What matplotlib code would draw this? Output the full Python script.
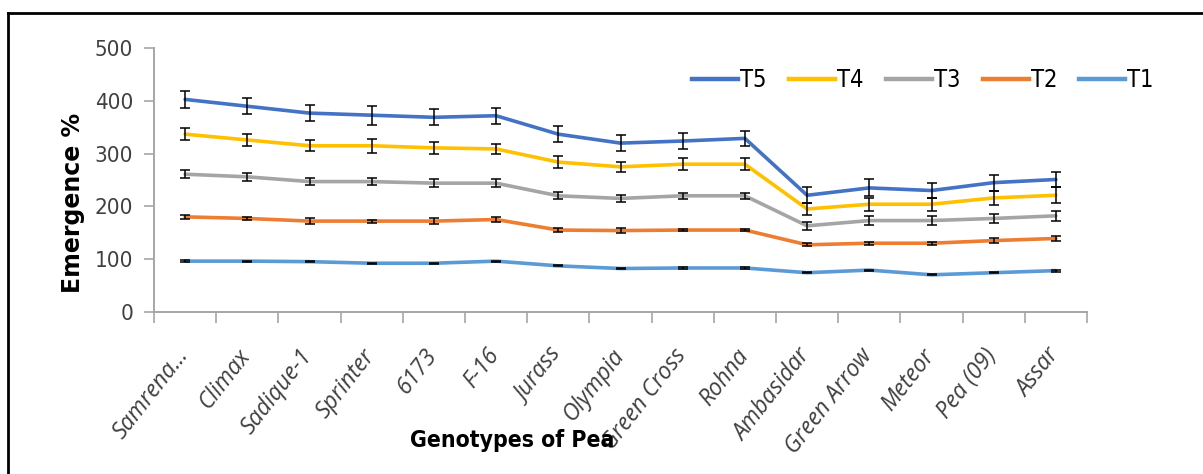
import matplotlib.pyplot as plt
from matplotlib.lines import Line2D
import matplotlib.transforms as mtransforms
import numpy as np

genotypes = ['Samrena...', 'Climax', 'Sadique-1', 'Sprinter', '6173', 'F-16', 'Jurass',
             'Olympia', 'Green Cross', 'Rohna', 'Ambasidar', 'Green Arrow', 'Meteor',
             'Pea (09)', 'Assar']

t5 = [403, 390, 377, 373, 369, 372, 337, 320, 324, 329, 221, 235, 230, 245, 251]
t4 = [337, 326, 315, 315, 311, 309, 284, 275, 280, 280, 195, 204, 204, 216, 221]
t3 = [261, 256, 247, 247, 244, 244, 220, 215, 220, 220, 163, 173, 173, 177, 182]
t2 = [180, 177, 172, 172, 172, 175, 155, 154, 155, 155, 127, 130, 130, 135, 139]
t1 = [96, 96, 95, 92, 92, 96, 87, 82, 83, 83, 74, 79, 70, 74, 78]

t5_err = [16, 15, 15, 18, 15, 15, 15, 15, 15, 14, 15, 16, 15, 15, 15]
t4_err = [11, 11, 10, 13, 11, 10, 11, 10, 11, 11, 12, 12, 12, 14, 15]
t3_err = [8, 8, 7, 7, 7, 7, 7, 6, 6, 6, 8, 9, 9, 8, 10]
t2_err = [4, 3, 5, 3, 5, 4, 3, 4, 2, 2, 3, 3, 3, 4, 4]
t1_err = [2, 1, 1, 1, 1, 1, 1, 1, 1, 1, 1, 1, 1, 1, 2]

series = [('T5', t5, t5_err, '#4472C4'),
          ('T4', t4, t4_err, '#FFC000'),
          ('T3', t3, t3_err, '#A5A5A5'),
          ('T2', t2, t2_err, '#ED7D31'),
          ('T1', t1, t1_err, '#5B9BD5')]

narrow = dict(family='DejaVu Sans', stretch='condensed')

fig = plt.figure(figsize=(12.03, 4.74), dpi=100)
ax = fig.add_axes([154 / 1203, 1 - 311.7 / 474, 933 / 1203, 263.4 / 474])

x = np.arange(len(genotypes))
for name, vals, err, col in series:
    ax.plot(x, vals, color=col, lw=2.6, zorder=2, solid_capstyle='round')
    ax.errorbar(x, vals, yerr=err, fmt='none', ecolor='black', elinewidth=1.1,
                capsize=3.6, capthick=1.1, zorder=3)

ax.set_xlim(-0.5, len(genotypes) - 0.5)
ax.set_ylim(0, 500)
ax.set_yticks(range(0, 501, 100))
ax.set_xticks(x)
ax.set_xticks(np.arange(-0.5, len(genotypes), 1), minor=True)
ax.tick_params(axis='x', which='major', length=0, pad=0)
ax.tick_params(axis='x', which='minor', length=8, color='#A6A6A6', width=1.2)
ax.tick_params(axis='y', length=7, color='#A6A6A6', width=1.2, pad=8,
               labelcolor='#404040')
for lab in ax.get_yticklabels():
    lab.set_fontproperties(dict(narrow, size=16))

ax.set_xticklabels(genotypes, rotation=52, ha='right', va='center',
                   rotation_mode='anchor', fontsize=16.5, style='italic',
                   family='Open Sans', color='#404040')
offset = mtransforms.ScaledTranslation(-1 / 100, -40 / 100, fig.dpi_scale_trans)
for lab in ax.get_xticklabels():
    lab.set_transform(lab.get_transform() + offset)

for s in ['top', 'right']:
    ax.spines[s].set_visible(False)
for s in ['left', 'bottom']:
    ax.spines[s].set_color('#A6A6A6')
    ax.spines[s].set_linewidth(1.4)

fig.text(73 / 1203, 1 - 203 / 474, 'Emergence %', rotation=90, ha='center',
         va='center', fontsize=17, fontweight='bold', family='DejaVu Sans')
fig.text(512 / 1203, 1 - 440 / 474, 'Genotypes of Pea', ha='center', va='center',
         fontsize=16.5, fontweight='bold', **narrow)

handles = [Line2D([0], [0], color=c, lw=3.2) for _, _, _, c in series]
fig.legend(handles, [s[0] for s in series], loc='center left',
           bbox_to_anchor=(692 / 1203, 1 - 80 / 474), ncol=5, frameon=False,
           handlelength=1.95, handletextpad=0.08, columnspacing=0.95,
           borderaxespad=0, borderpad=0,
           prop=dict(narrow, size=17))

# outer frame: top and left edges only
fig.add_artist(Line2D([7.5 / 1203, 7.5 / 1203], [0, 1 - 13 / 474], color='black', lw=2))
fig.add_artist(Line2D([7.5 / 1203, 1], [1 - 13 / 474, 1 - 13 / 474], color='black', lw=2))

fig.savefig('out.png', dpi=100)
